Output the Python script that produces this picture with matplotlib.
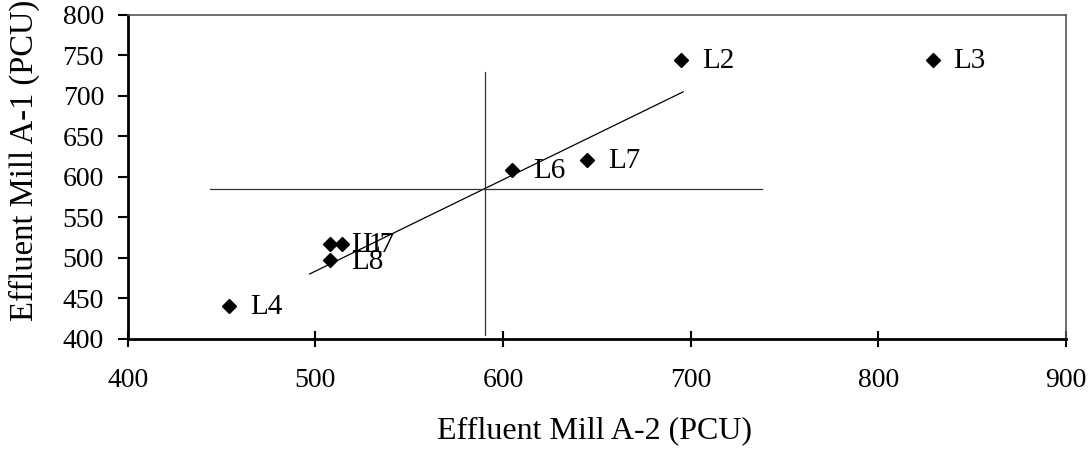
import matplotlib
matplotlib.use("Agg")
import matplotlib.pyplot as plt

# Data
labels = ["L2", "L3", "L4", "L6", "L7", "L8", "L1", "L7"]
x_vals = [695, 829, 454, 605, 645, 508, 508, 514]
y_vals = [745, 745, 441, 609, 621, 497, 517, 517]

# Mean cross-hair lines
mean_x = 590.6
mean_y = 584.5
vline_y = [404, 730]
hline_x = [444, 738]

# Trend line end points
trend_x = [497, 696]
trend_y = [480, 705]

x_ticks = [400, 500, 600, 700, 800, 900]
y_ticks = [400, 450, 500, 550, 600, 650, 700, 750, 800]

plt.rcParams['font.family'] = ['Liberation Serif', 'DejaVu Serif']

fig = plt.figure(figsize=(10.91, 4.49), dpi=100)
ax = fig.add_axes([0.117, 0.2457, 0.977 - 0.117, 0.9666 - 0.2457])

ax.plot(trend_x, trend_y, color='black', lw=0.9, zorder=2)
ax.plot([mean_x, mean_x], vline_y, color='#333333', lw=0.9, zorder=2)
ax.plot(hline_x, [mean_y, mean_y], color='#333333', lw=0.9, zorder=2)

ax.plot(x_vals, y_vals, linestyle='none', marker='D', ms=7.5,
        color='black', zorder=3)
for lab, xv, yv in zip(labels, x_vals, y_vals):
    ax.annotate(lab, (xv, yv), xytext=(15, -1), textcoords='offset points',
                ha='left', va='center', fontsize=21)

ax.set_xlim(400, 900)
ax.set_ylim(400, 800)
ax.set_xticks(x_ticks)
ax.set_yticks(y_ticks)
ax.tick_params(axis='x', direction='inout', length=12, width=1.5,
               labelsize=20, pad=15)
ax.tick_params(axis='y', direction='out', length=7, width=1.5,
               labelsize=20, pad=10)

for s in ['left', 'bottom']:
    ax.spines[s].set_linewidth(2)
    ax.spines[s].set_color('black')
for s in ['top', 'right']:
    ax.spines[s].set_linewidth(1.2)
    ax.spines[s].set_color('#555555')

ax.set_xlabel("Effluent Mill A-2 (PCU)", fontsize=23)
ax.xaxis.label.set_va('center')
ax.xaxis.set_label_coords(0.498, (338.7 - 431) / 323.7)
fig.text(24 / 1091, 1 - 160 / 449, "Effluent Mill A-1 (PCU)", rotation=90,
         ha='center', va='center', fontsize=23.5)

fig.savefig("out.png", dpi=100)
